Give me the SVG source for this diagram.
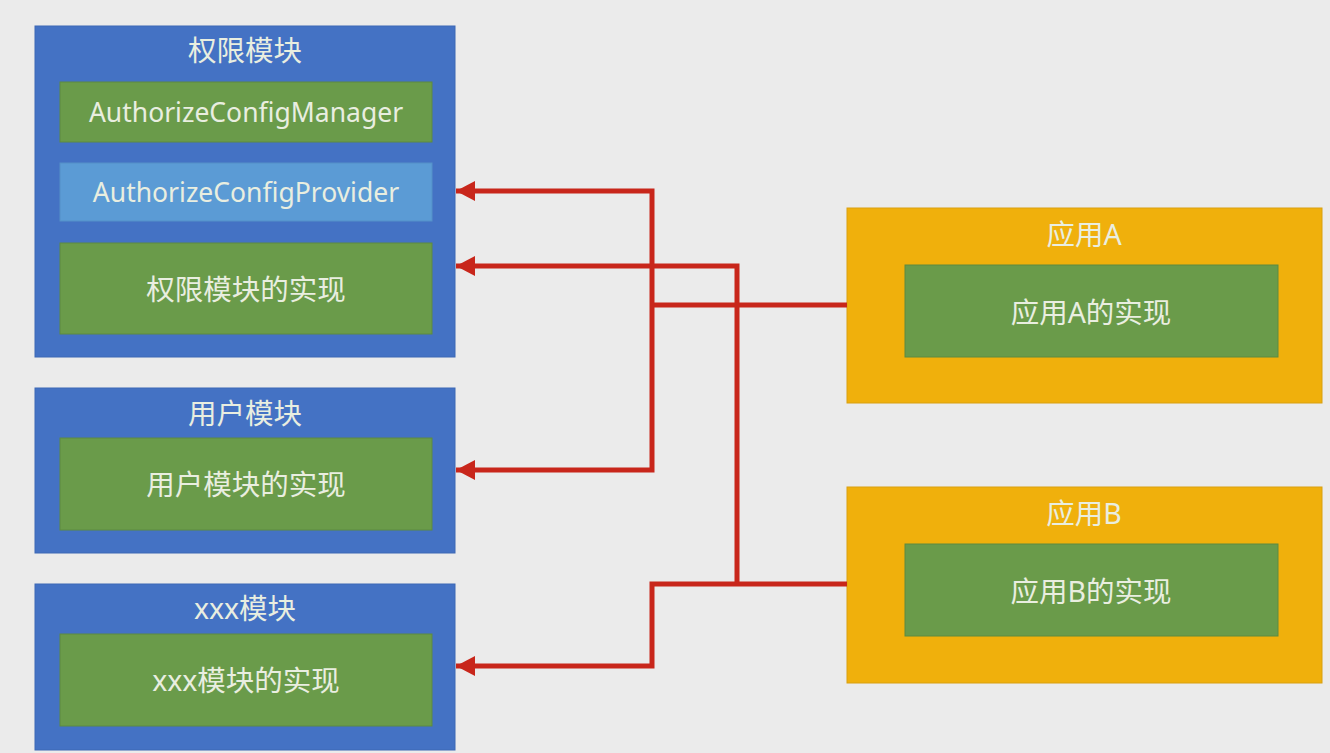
<svg xmlns="http://www.w3.org/2000/svg" width="1330" height="753" viewBox="0 0 1330 753">
<style>
.outer{fill:#4472c4;stroke:#3d68b5;stroke-width:1}
.app{fill:#f0b00c;stroke:#d9a010;stroke-width:1}
.green{fill:#6a9b4a;stroke:#5d8a40;stroke-width:1}
.lblue{fill:#5b9bd5;stroke:#5590c8;stroke-width:1}
text{font-family:"Noto Sans","Noto Sans CJK SC",sans-serif;fill:#e9eee0;text-anchor:middle;dominant-baseline:central}
.t{font-size:28.5px}
.s{font-size:28.5px}
.l{font-size:26.5px}
.conn{fill:none;stroke:#c8261b;stroke-width:5;stroke-linejoin:miter}
</style>
<defs>
<marker id="arr" markerUnits="userSpaceOnUse" markerWidth="20" markerHeight="20" refX="19" refY="10" orient="auto">
<path d="M0,0 L19,10 L0,20 Z" fill="#c8261b"/>
</marker>
</defs>
<rect x="0" y="0" width="1330" height="753" fill="#ebebeb"/>
<g id="auth-module">
<rect class="outer" x="35" y="26" width="420" height="331"/>
<text class="t" x="245" y="50">权限模块</text>
<rect class="green" x="60" y="82" width="372" height="60"/>
<text class="l" x="246" y="112">AuthorizeConfigManager</text>
<rect class="lblue" x="60" y="163" width="372" height="58"/>
<text class="l" x="246" y="192">AuthorizeConfigProvider</text>
<rect class="green" x="60" y="243" width="372" height="91"/>
<text class="s" x="246" y="289">权限模块的实现</text>
</g>
<g id="user-module">
<rect class="outer" x="35" y="388" width="420" height="165"/>
<text class="t" x="245" y="413">用户模块</text>
<rect class="green" x="60" y="438" width="372" height="92"/>
<text class="s" x="246" y="484">用户模块的实现</text>
</g>
<g id="xxx-module">
<rect class="outer" x="35" y="584" width="420" height="166"/>
<text class="t" x="245" y="608">xxx模块</text>
<rect class="green" x="60" y="634" width="372" height="92"/>
<text class="s" x="246" y="680">xxx模块的实现</text>
</g>
<g id="app-a">
<rect class="app" x="847" y="208" width="475" height="195"/>
<text class="t" x="1084" y="234">应用A</text>
<rect class="green" x="905" y="265" width="373" height="92"/>
<text class="s" x="1091" y="312">应用A的实现</text>
</g>
<g id="app-b">
<rect class="app" x="847" y="487" width="475" height="196"/>
<text class="t" x="1084" y="513">应用B</text>
<rect class="green" x="905" y="544" width="373" height="92"/>
<text class="s" x="1091" y="591">应用B的实现</text>
</g>
<g id="connectors">
<path class="conn" d="M847,305 H652"/>
<path class="conn" d="M652,305 V191 H456" marker-end="url(#arr)"/>
<path class="conn" d="M652,305 V470 H456" marker-end="url(#arr)"/>
<path class="conn" d="M847,584 H737"/>
<path class="conn" d="M737,584 V266 H456" marker-end="url(#arr)"/>
<path class="conn" d="M737,584 H652 V666 H456" marker-end="url(#arr)"/>
</g>
</svg>
